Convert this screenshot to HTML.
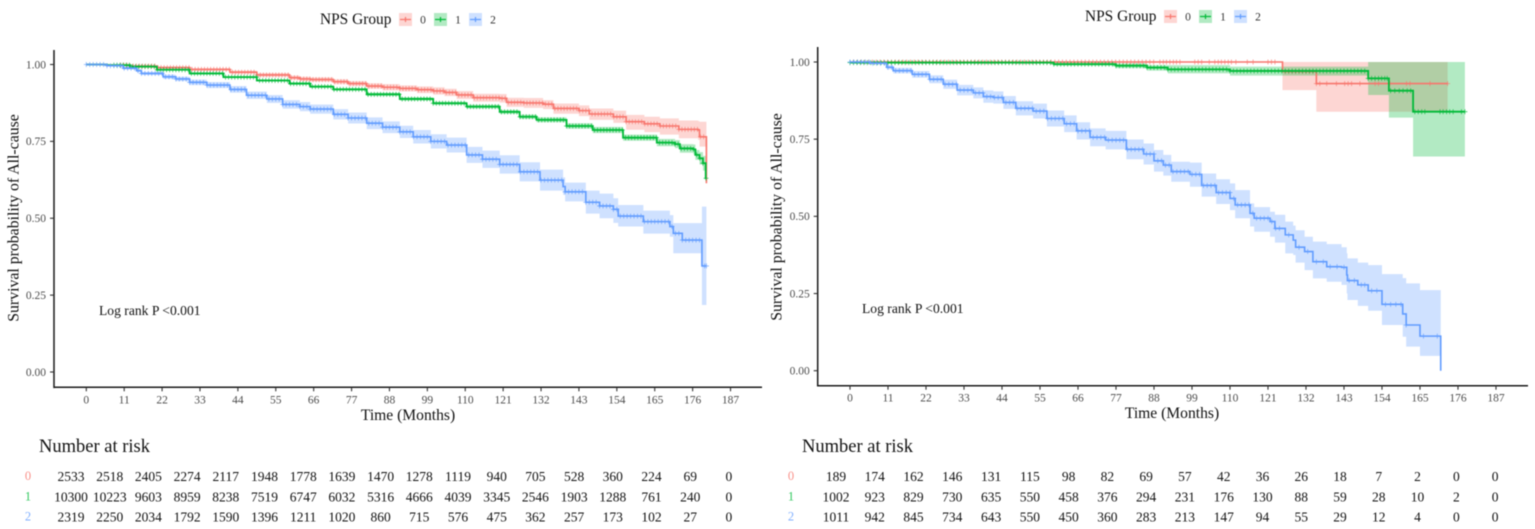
<!DOCTYPE html>
<html>
<head>
<meta charset="utf-8">
<title>Kaplan-Meier survival by NPS group</title>
<style>
html,body{margin:0;padding:0;background:#fff;width:1535px;height:529px;overflow:hidden}
#figure{display:block;filter:blur(0.45px);font-family:"Liberation Serif",serif}
</style>
</head>
<body>
<svg id="figure" xmlns="http://www.w3.org/2000/svg" width="1535" height="529" viewBox="0 0 1535 529"></svg>
<script>
// ---------- shared labels ----------
const groups = ["0","1","2"];
const groupColors = ["#F8766D","#00BA38","#619CFF"];
const xTicks = [0,11,22,33,44,55,66,77,88,99,110,121,132,143,154,165,176,187];
const yTicks = [0,0.25,0.5,0.75,1];

// ---------- left panel: red (group 0) ----------
const leftRedTimes = [0,6,12.7,20.5,30,41.7,49.5,59,62,65,71.7,76,81.4,86,91,96,100.7,104,107.5,112.3,120,122,127,132.6,135.6,143,146,153,156.7,162,166.5,172,177.6,178,180];
const leftRedSurv  = [1,.998,.995,.99,.984,.975,.966,.957,.953,.951,.944,.938,.93,.926,.922,.918,.914,.909,.901,.892,.89,.877,.875,.871,.857,.85,.839,.83,.814,.807,.80,.789,.787,.765,.614];
const leftRedLower = [1,.997,.993,.987,.98,.97,.96,.95,.946,.944,.936,.93,.921,.916,.912,.907,.902,.897,.888,.879,.876,.862,.859,.855,.84,.832,.82,.81,.788,.78,.772,.76,.755,.733,.733];
const leftRedUpper = [1,.999,.997,.993,.988,.98,.972,.964,.96,.958,.952,.946,.939,.936,.932,.929,.926,.921,.914,.905,.904,.892,.891,.884,.873,.867,.857,.85,.836,.83,.825,.818,.816,.814,.814];
// ---------- left panel: green (group 1) ----------
const leftGreenTimes = [0,6,12.7,20.5,30,39.8,49.5,59,65,71.7,81.4,91,100.7,110.4,120,125.8,130.7,139.4,147,155.8,165.6,170.9,172.3,176.2,176.8,178,179,179.8,180];
const leftGreenSurv  = [1,.998,.993,.983,.971,.959,.948,.938,.928,.919,.903,.888,.874,.863,.846,.83,.82,.80,.787,.762,.746,.741,.727,.724,.706,.695,.679,.63,.63];
const leftGreenLower = [1,.997,.991,.981,.968,.956,.945,.934,.924,.915,.898,.883,.869,.857,.84,.823,.812,.791,.777,.752,.734,.728,.713,.708,.69,.675,.655,.655,.655];
const leftGreenUpper = [1,.999,.995,.985,.974,.962,.951,.942,.932,.923,.908,.893,.879,.869,.852,.837,.828,.809,.797,.772,.758,.754,.741,.74,.722,.715,.703,.70,.70];
// ---------- left panel: blue (group 2) ----------
const leftBlueTimes = [0,6,10.7,14.6,16,22.3,26,30,35,41.7,46.5,52.4,57,62,65,71.7,76,81.4,86,91,94.9,100,104.6,110.4,115,120,125.8,131.7,138.4,139,145,149,153,154.4,161.7,169.4,170.4,173,178.7,180];
const leftBlueSurv  = [1,.996,.988,.98,.971,.96,.953,.942,.933,.919,.90,.888,.87,.863,.855,.838,.826,.809,.796,.781,.765,.75,.738,.706,.692,.675,.651,.624,.603,.586,.552,.54,.529,.507,.489,.473,.451,.429,.345,.345];
const leftBlueLower = [1,.994,.984,.975,.966,.953,.946,.933,.923,.908,.888,.875,.856,.848,.84,.821,.808,.79,.777,.761,.743,.727,.714,.68,.664,.645,.62,.59,.576,.555,.515,.5,.485,.473,.45,.44,.386,.386,.218,.218];
const leftBlueUpper = [1,.998,.992,.985,.976,.967,.96,.951,.943,.93,.912,.901,.884,.878,.87,.855,.844,.828,.815,.801,.787,.773,.762,.732,.72,.705,.682,.658,.633,.616,.59,.58,.565,.543,.525,.51,.484,.484,.538,.538];
// censor marks: dense ranges [from, to, every] in months
const leftRedCensorRange = [10,180,0.9];
const leftGreenCensorRange = [8,180,0.9];
const leftBlueCensorRange = [0,178,1];
const leftBlueCensorExtra = [179.5,180];

// ---------- right panel: red (group 0) ----------
const rightRedTimes = [0,125.2,135,173];
const rightRedSurv  = [1,.969,.93,.93];
const rightRedLower = [1,.909,.839,.839];
const rightRedUpper = [1,1,1,1];
const rightRedCensorRange = [1,88,1.1];
const rightRedCensorExtra = [89.7,90.7,91.6,92.6,93.6,94.5,95.5,99.8,100.8,101.8,104,105.6,106.6,107.5,108.5,109.5,110.4,111.7,115,116.7,121,122,123,126,127,128,129,130,131,132,133,134,135,136,138,140.8,143.2,144.2,145.2,147.6,152,153,156.3,161.1,162.1,167.9,173];
// ---------- right panel: green (group 1) ----------
const rightGreenTimes = [0,59,77,86,92,110,150,156,163,178];
const rightGreenSurv  = [.998,.993,.988,.982,.976,.971,.947,.907,.839,.839];
const rightGreenLower = [.997,.988,.98,.972,.963,.956,.893,.82,.694,.694];
const rightGreenUpper = [.999,.997,.995,.99,.99,.985,1,1,1,1];
const rightGreenCensorRange = [0,150,1];
const rightGreenCensorExtra = [151,152,153,153.9,154.8,155.5,156.5,157.7,159,160.1,161.3,162.3,163.5,164.5,165.5,166.4,170.8,171.7,172.7,173.6,174.6,177,178];
// ---------- right panel: blue (group 2) ----------
const rightBlueTimes = [0,5.8,10.6,12.5,18,23,27,31,35.7,38.6,41.5,44.4,48,53,57,62,65.6,69.5,74,80,85,88,90.7,93,98.4,101.8,106,110,111.5,115.8,117,121.6,123,126,128.3,129,131.6,134,138,142.3,143.8,144,147,150,154,160,161,165,171];
const rightBlueSurv  = [1,.996,.983,.972,.96,.944,.928,.909,.90,.888,.885,.869,.85,.841,.817,.80,.777,.756,.747,.717,.702,.68,.666,.645,.636,.60,.577,.558,.537,.51,.494,.483,.461,.44,.423,.40,.386,.353,.337,.335,.31,.292,.278,.259,.215,.184,.148,.112,0];
const rightBlueLower = [1,.993,.976,.963,.949,.931,.913,.892,.882,.868,.865,.848,.827,.817,.791,.773,.749,.727,.717,.685,.668,.645,.632,.612,.596,.564,.54,.52,.494,.467,.45,.434,.415,.38,.375,.35,.326,.299,.288,.278,.25,.229,.21,.194,.148,.11,.078,.048,.048];
const rightBlueUpper = [1,.999,.99,.981,.971,.957,.943,.926,.918,.908,.905,.89,.873,.865,.843,.827,.805,.785,.777,.749,.736,.715,.699,.677,.674,.639,.62,.607,.585,.542,.53,.515,.505,.483,.47,.455,.434,.418,.41,.40,.38,.364,.35,.342,.313,.30,.283,.261,.261];
const rightBlueCensorRange = [0,125,1.1];
const rightBlueCensorExtra = [127,130,132.5,135,137,139,141,143,144.5,146,148,149,151,152.5,155,156.5,158,159.5,161,166,170];

// ---------- number at risk ----------
const leftRisk0 = [2533,2518,2405,2274,2117,1948,1778,1639,1470,1278,1119,940,705,528,360,224,69,0];
const leftRisk1 = [10300,10223,9603,8959,8238,7519,6747,6032,5316,4666,4039,3345,2546,1903,1288,761,240,0];
const leftRisk2 = [2319,2250,2034,1792,1590,1396,1211,1020,860,715,576,475,362,257,173,102,27,0];
const rightRisk0 = [189,174,162,146,131,115,98,82,69,57,42,36,26,18,7,2,0,0];
const rightRisk1 = [1002,923,829,730,635,550,458,376,294,231,176,130,88,59,28,10,2,0];
const rightRisk2 = [1011,942,845,734,643,550,450,360,283,213,147,94,55,29,12,4,0,0];

const svg = document.getElementById('figure');
const NS = 'http://www.w3.org/2000/svg';
function make(parent, tag, props, txt){
  const el = document.createElementNS(NS, tag);
  for (const k in props) el.setAttribute(k, props[k]);
  if (txt !== undefined) el.textContent = txt;
  parent.appendChild(el);
  return el;
}
function rangeTimes(r, extra){
  const out = [];
  for (let t = r[0]; t <= r[1] + 1e-9; t += r[2]) out.push(t);
  return extra ? out.concat(extra) : out;
}
function stepAt(times, vals, t){
  let v = vals[0];
  for (let i = 0; i < times.length; i++){ if (times[i] <= t) v = vals[i]; else break; }
  return v;
}

function drawPanel(p){
  const X = t => p.x0 + t * p.xUnit;
  const Y = s => p.y0 - s * p.yUnit;

  const panel = make(svg, 'g', {});
  
  

  // bands
  p.series.forEach((s, g) => {
    let up = 'M' + X(s.times[0]) + ' ' + Y(s.upper[0]);
    let down = '';
    for (let i = 1; i < s.times.length; i++){
      up += 'H' + X(s.times[i]);
      if (i < s.times.length - 1) up += 'V' + Y(s.upper[i]);
    }
    for (let i = s.times.length - 2; i >= 0; i--){
      down += 'V' + Y(s.lower[i]) + 'H' + X(s.times[i]);
    }
    const band = make(panel, 'path', {d: up + down + 'Z', fill: groupColors[g], 'fill-opacity': 0.3, stroke: 'none'});
    
    
  });
  // lines + censor marks
  p.series.forEach((s, g) => {
    let d = 'M' + X(s.times[0]) + ' ' + Y(s.surv[0]);
    for (let i = 1; i < s.times.length; i++){
      d += 'H' + X(s.times[i]) + 'V' + Y(s.surv[i]);
    }
    const line = make(panel, 'path', {d: d, fill: 'none', stroke: groupColors[g], 'stroke-width': g === 1 ? 1.8 : 1.6});
    
    

    let m = '';
    s.censor.forEach(t => {
      const cx = X(t), cy = Y(stepAt(s.times, s.surv, t));
      m += 'M' + (cx - 2.5) + ' ' + cy + 'h5M' + cx + ' ' + (cy - 2.5) + 'v5';
    });
    const marks = make(panel, 'path', {d: m, fill: 'none', stroke: groupColors[g], 'stroke-width': 0.8, 'stroke-opacity': 0.8});
    
    
  });

  // axes
  const yAxis = make(panel, 'line', {x1: p.axisX, x2: p.axisX, y1: p.axisTop, y2: p.axisY + 0.8, stroke: '#1a1a1a', 'stroke-width': 1.5});
  
  
  const xAxis = make(panel, 'line', {x1: p.axisX, x2: p.axisRight, y1: p.axisY, y2: p.axisY, stroke: '#1a1a1a', 'stroke-width': 1.5});
  
  

  xTicks.forEach(t => {
    const tick = make(panel, 'line', {x1: X(t), x2: X(t), y1: p.axisY, y2: p.axisY + 4, stroke: '#333', 'stroke-width': 1.1});
    
    
    const lab = make(panel, 'text', {x: X(t), y: p.axisY + 16, 'text-anchor': 'middle', 'font-size': 11.5, fill: '#4d4d4d'}, String(t));
    
    
  });
  yTicks.forEach(v => {
    const tick = make(panel, 'line', {x1: p.axisX - 4, x2: p.axisX, y1: Y(v), y2: Y(v), stroke: '#333', 'stroke-width': 1.1});
    
    
    const lab = make(panel, 'text', {x: p.axisX - 8, y: Y(v) + 3.8, 'text-anchor': 'end', 'font-size': 11.5, fill: '#4d4d4d'}, v.toFixed(2));
    
    
  });

  const xt = make(panel, 'text', {x: p.xTitleX, y: p.xTitleY, 'text-anchor': 'middle', 'font-size': 15.6, fill: '#111'}, 'Time (Months)');
  
  
  const yt = make(panel, 'text', {transform: 'translate(' + p.yTitleX + ' ' + p.yTitleY + ') rotate(-90)', 'text-anchor': 'middle', 'font-size': 15.8, fill: '#111'}, 'Survival probability of All-cause');
  
  
  const lr = make(panel, 'text', {x: p.logX, y: p.logY, 'font-size': 13.6, fill: '#111'}, 'Log rank P <0.001');
  
  

  // legend
  const lt = make(panel, 'text', {x: p.legendX, y: p.legendY + 5, 'font-size': 15.4, fill: '#111'}, 'NPS Group');
  
  
  groups.forEach((g, i) => {
    const kx = p.legendX + 79 + i * 35;
    const entry = make(panel, 'g', {});
    
    
    make(entry, 'rect', {x: kx, y: p.legendY - 6, width: 13, height: 13, fill: groupColors[i], 'fill-opacity': 0.3});
    make(entry, 'path', {d: 'M' + (kx + 1) + ' ' + (p.legendY + 0.5) + 'h11M' + (kx + 6.5) + ' ' + (p.legendY - 2) + 'v5', stroke: groupColors[i], 'stroke-width': 1.2, fill: 'none'});
    make(entry, 'text', {x: kx + 24, y: p.legendY + 4.5, 'text-anchor': 'middle', 'font-size': 11.5, fill: '#333'}, g);
  });

  // risk table
  const rt = make(panel, 'text', {x: p.riskTitleX, y: 452, 'font-size': 18.5, fill: '#111'}, 'Number at risk');
  
  
  p.risk.forEach((row, r) => {
    const ry = [481, 501.5, 521.5][r];
    const rl = make(panel, 'text', {x: p.riskLabelX, y: ry - 1, 'text-anchor': 'middle', 'font-size': 12.5, fill: groupColors[r], 'fill-opacity': 0.8}, groups[r]);
    
    
    row.forEach((n, c) => {
      const cell = make(panel, 'text', {x: p.riskX0 + c * p.riskDx, y: ry, 'text-anchor': 'middle', 'font-size': 13.5, fill: '#111'}, String(n));
      
      
    });
  });
}

drawPanel({
  name: 'left', x0: 86.3, xUnit: 3.445, y0: 372, yUnit: 307.5,
  axisX: 54, axisY: 387.3, axisTop: 50, axisRight: 762,
  xTitleX: 408, xTitleY: 420, yTitleX: 18.5, yTitleY: 218, logX: 99, logY: 315,
  legendX: 320, legendY: 19, riskTitleX: 39, riskLabelX: 28, riskX0: 71, riskDx: 38.7,
  risk: [leftRisk0, leftRisk1, leftRisk2],
  series: [
    {times: leftRedTimes, surv: leftRedSurv, lower: leftRedLower, upper: leftRedUpper, censor: rangeTimes(leftRedCensorRange)},
    {times: leftGreenTimes, surv: leftGreenSurv, lower: leftGreenLower, upper: leftGreenUpper, censor: rangeTimes(leftGreenCensorRange)},
    {times: leftBlueTimes, surv: leftBlueSurv, lower: leftBlueLower, upper: leftBlueUpper, censor: rangeTimes(leftBlueCensorRange, leftBlueCensorExtra)}
  ]
});
drawPanel({
  name: 'right', x0: 850, xUnit: 3.4545, y0: 370.7, yUnit: 308.7,
  axisX: 817.7, axisY: 385.7, axisTop: 47, axisRight: 1528,
  xTitleX: 1172, xTitleY: 418, yTitleX: 781.5, yTitleY: 217, logX: 862, logY: 313,
  legendX: 1085, legendY: 16, riskTitleX: 802, riskLabelX: 791, riskX0: 836, riskDx: 38.77,
  risk: [rightRisk0, rightRisk1, rightRisk2],
  series: [
    {times: rightRedTimes, surv: rightRedSurv, lower: rightRedLower, upper: rightRedUpper, censor: rangeTimes(rightRedCensorRange, rightRedCensorExtra)},
    {times: rightGreenTimes, surv: rightGreenSurv, lower: rightGreenLower, upper: rightGreenUpper, censor: rangeTimes(rightGreenCensorRange, rightGreenCensorExtra)},
    {times: rightBlueTimes, surv: rightBlueSurv, lower: rightBlueLower, upper: rightBlueUpper, censor: rangeTimes(rightBlueCensorRange, rightBlueCensorExtra)}
  ]
});
</script>
</body>
</html>
